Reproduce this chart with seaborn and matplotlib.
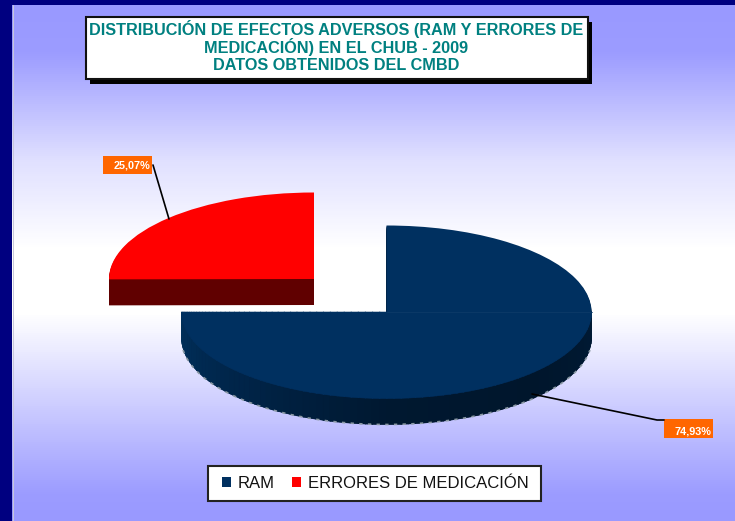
import numpy as np
import matplotlib
matplotlib.use("Agg")
import matplotlib.pyplot as plt
from matplotlib.colors import LinearSegmentedColormap
from matplotlib.patches import Patch, Rectangle
import seaborn as sns

# Chart data
categories = ["RAM", "ERRORES DE MEDICACIÓN"]
percentages = [74.93, 25.07]
percent_labels = ["74,93%", "25,07%"]
title_lines = [
    "DISTRIBUCIÓN DE EFECTOS ADVERSOS (RAM Y ERRORES DE",
    "MEDICACIÓN) EN EL CHUB - 2009",
    "DATOS OBTENIDOS DEL CMBD",
]

top_colors = ["#003060", "#ff0000"]
side_colors = ["#001a35", "#600000"]

W, H = 735, 521
sns.set_theme(style="white")
plt.rcParams["font.family"] = ["Liberation Sans", "DejaVu Sans"]

fig = plt.figure(figsize=(W / 100, H / 100), dpi=100, facecolor="#000080")

# background gradient, everything inside the navy border
bg_ax = fig.add_axes([12 / W, 0, 1 - 12 / W, 1 - 5 / H])
stops = [(0, "#9999ff"), (0.09, "#9c9cff"), (0.3, "#e0e0ff"), (0.47, "#ffffff"),
         (0.6, "#ffffff"), (0.78, "#ccccff"), (0.95, "#9c9cff"), (1, "#9999ff")]
cmap = LinearSegmentedColormap.from_list("slide", stops)
bg_ax.imshow(np.linspace(0, 1, 516)[:, None], cmap=cmap, aspect="auto", vmin=0, vmax=1)
bg_ax.axis("off")
fig.add_artist(plt.Line2D([12.5 / W, 12.5 / W], [0, 1 - 5 / H], color="#c8c8d8", lw=0.7))

# pie axes: one data unit is 205 px across and 86.5 px down, which gives the tilt
cx, cy, rx, ry = 386.5, 312, 205, 86.5
depth = 26 / ry
red_offset = (-72.5 / rx, 33 / ry)
pie_ax = fig.add_axes([0, 0, 1, 1])
pie_ax.patch.set_alpha(0)


def draw_pie(colors, dy=0):
    wedges, _ = pie_ax.pie(percentages, colors=colors, startangle=90, counterclock=False,
                           frame=False, center=(0, -dy), wedgeprops={"lw": 0, "edgecolor": "none"})
    wedges[1].set_center((red_offset[0], red_offset[1] - dy))
    return wedges


for dy in np.linspace(depth, 0, 27)[:-1]:
    draw_pie(side_colors, dy)
draw_pie(top_colors)

# shaded rim of the blue slice, lighter towards the left
rim = LinearSegmentedColormap.from_list("rim", ["#00305c", "#002448", "#001830", "#00162c", "#001a35"])
for a in np.arange(180, 360, 2.0):
    t = np.radians([a, a + 2.2, a + 2.2, a])
    xs = np.cos(t)
    ys = np.sin(t) + np.array([0, 0, -depth, -depth])
    c = rim((a - 180) / 180)
    pie_ax.fill(xs, ys, color=c, ec=c, lw=0.4, zorder=1.5)
    pie_ax.fill(xs, [ys[0], ys[1], 0, 0], color=top_colors[0], ec=top_colors[0], lw=0.4, zorder=1.6)

# speckled grey fringe along the bottom edge of the rim
t = np.radians(np.linspace(188, 352, 400))
pie_ax.plot(np.cos(t) * 1.002, np.sin(t) - depth, color="#8a98a4", lw=1.2, ls=(0, (2, 3.2)), zorder=1.7)
# faint seam on the top face
pie_ax.plot([0, 1], [0, 0], color="#0c3a68", lw=0.6, zorder=1.8)

pie_ax.set_aspect("auto")
pie_ax.set_xlim((0 - cx) / rx, (W - cx) / rx)
pie_ax.set_ylim((cy - H) / ry, cy / ry)

# overlay in pixel coordinates for title box, callouts and legend
ax = fig.add_axes([0, 0, 1, 1])
ax.set_xlim(0, W)
ax.set_ylim(H, 0)
ax.axis("off")

ax.add_patch(Rectangle((90, 22), 502, 62, fc="black", ec="none"))
ax.add_patch(Rectangle((86, 17), 502, 62, fc="white", ec="#111111", lw=1.5))
for line, y in zip(title_lines, [28.5, 46.5, 65]):
    ax.text(336, y, line, color="#008080", fontsize=11.7, fontweight="bold",
            ha="center", va="center")

# callouts
ax.plot([153, 169], [165, 219], color="black", lw=1.2)
ax.plot([532, 657, 664], [394, 420, 420], color="black", lw=1.2)
for label, (x0, y0, w, h), dy in zip(percent_labels, [(664, 419, 49, 19), (103, 156, 49, 18)], [2.5, 1]):
    ax.add_patch(Rectangle((x0, y0), w, h, fc="#ff6600", ec="none"))
    ax.text(x0 + w - 2, y0 + h / 2 + dy, label, color="white", fontsize=7.8,
            fontweight="bold", ha="right", va="center")

# legend box, the legend itself sits on it without a frame
ax.add_patch(Rectangle((208, 465.5), 333, 35, fc="white", ec="#222222", lw=1.5))
handles = [Patch(fc=c, ec="none", label=n) for c, n in zip(top_colors, categories)]
ax.legend(handles=handles, loc="center", bbox_to_anchor=(375 / W, 1 - 483.5 / H),
          ncol=2, frameon=False, fontsize=12, handlelength=0.55, handleheight=0.55,
          handletextpad=0.4, columnspacing=1.05, borderpad=0, labelcolor="#111111")

fig.savefig("out.png", dpi=100, facecolor=fig.get_facecolor())
